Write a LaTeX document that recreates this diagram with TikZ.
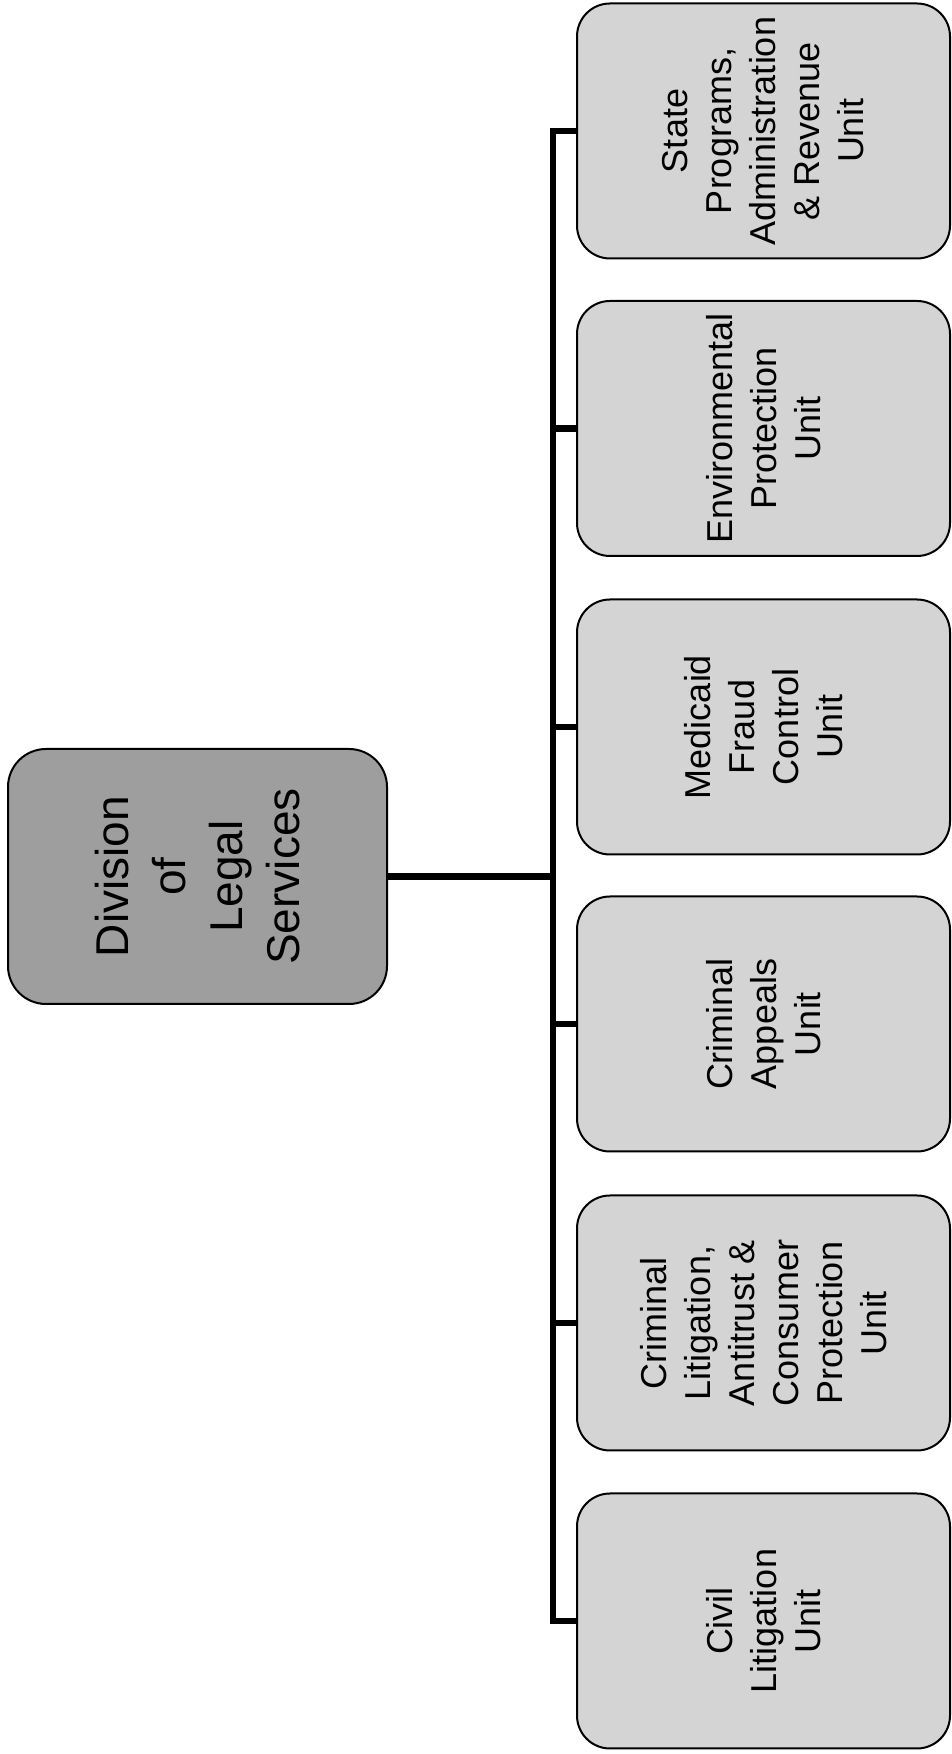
\documentclass[tikz,border=0pt]{standalone}
\usepackage{fontspec}
\setmainfont{Liberation Sans}
\begin{document}
\begin{tikzpicture}[x=1pt,y=1pt,
  rootbox/.style={draw=black, line width=2pt, fill=black!38, rounded corners=38pt,
    rotate=90, minimum width=255pt, minimum height=379pt, align=center,
    inner sep=0pt, font=\fontsize{46}{57}\selectfont},
  unitbox/.style={draw=black, line width=2pt, fill=black!17, rounded corners=33pt,
    rotate=90, minimum width=255pt, minimum height=373pt, align=center,
    inner sep=0pt, font=\fontsize{36}{44}\selectfont},
  conn/.style={draw=black, line width=6.5pt, line join=miter}]
\useasboundingbox (0,0) rectangle (952,1754);
\node[rootbox] (root) at (197.5,877.5) {Division\\of\\Legal\\Services};
\node[unitbox] (u1) at (763.5,1623) {State\\Programs,\\Administration\\\& Revenue\\Unit};
\node[unitbox] (u2) at (763.5,1325.5) {Environmental\\Protection\\Unit};
\node[unitbox] (u3) at (763.5,1027) {Medicaid\\Fraud\\Control\\Unit};
\node[unitbox] (u4) at (763.5,730) {Criminal\\Appeals\\Unit};
\node[unitbox] (u5) at (763.5,431) {Criminal\\Litigation,\\Antitrust \&\\Consumer\\Protection\\Unit};
\node[unitbox] (u6) at (763.5,133) {Civil\\Litigation\\Unit};
\coordinate (bus) at (553,877);
\draw[conn] (root.south) -- (root.south -| bus);
\draw[conn] (u1.north) -- (u1.north -| bus) -- (u6.north -| bus) -- (u6.north);
\draw[conn] (u2.north -| bus) -- (u2.north);
\draw[conn] (u3.north -| bus) -- (u3.north);
\draw[conn] (u4.north -| bus) -- (u4.north);
\draw[conn] (u5.north -| bus) -- (u5.north);
\end{tikzpicture}
\end{document}
